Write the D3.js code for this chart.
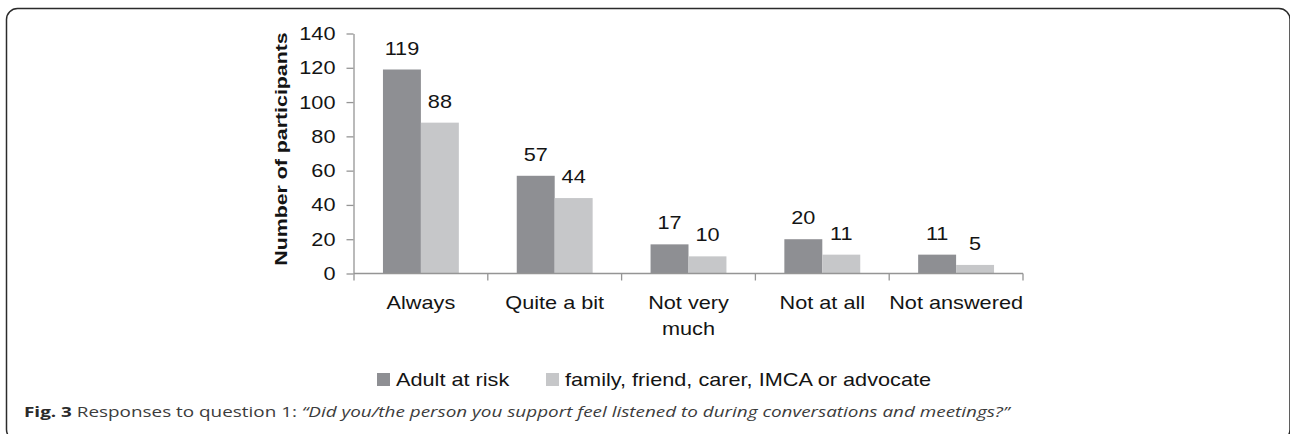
<!DOCTYPE html>
<html><head><meta charset="utf-8">
<script src="https://cdn.jsdelivr.net/npm/d3@7"></script>
<style>html,body{margin:0;padding:0;background:#fff;} svg{display:block;}</style>
</head><body>
<svg id="chart" width="1290" height="434"></svg>
<script>
// Survey responses, two respondent groups
const categories = ["Always", "Quite a bit", "Not very\nmuch", "Not at all", "Not answered"];
const seriesNames = ["Adult at risk", "family, friend, carer, IMCA or advocate"];
const adultAtRisk = [119, 57, 17, 20, 11];
const familyFriendCarer = [88, 44, 10, 11, 5];
const yTickValues = [0, 20, 40, 60, 80, 100, 120, 140];
const seriesColors = ["#8e8f93", "#c6c7c9"];
const captionBold = "Fig. 3";
const captionPlain = " Responses to question 1: ";
const captionQuote = "\u201CDid you/the person you support feel listened to during conversations and meetings?\u201D";

const seriesValues = [adultAtRisk, familyFriendCarer];

const svg = d3.select("#chart");
const FONT = "'Liberation Sans', Arial, Helvetica, sans-serif";
const FS = 17.5;   // chart text size
const SX = 1.24;   // wide-set glyphs of the chart font

// text drawn with a horizontal stretch around its anchor
function wideText(parent, x, y, str, anchor) {
  return parent.append("text")
    .attr("transform", `translate(${x},${y}) scale(${SX},1)`)
    .attr("text-anchor", anchor || "start")
    .attr("font-family", FONT)
    .attr("font-size", FS)
    .attr("fill", "#141414")
    .text(str);
}

// panel frame
svg.append("rect")
  .attr("x", 6.5).attr("y", 8.5)
  .attr("width", 1283.5).attr("height", 432)
  .attr("rx", 11).attr("ry", 11)
  .attr("fill", "none").attr("stroke", "#2b2b2b").attr("stroke-width", 1.5);

const x0 = d3.scaleBand().domain(categories).range([354, 1023]).padding(0);
const x1 = d3.scaleBand().domain(seriesNames).range([0, x0.bandwidth()])
  .paddingInner(0).paddingOuter(0.763);
const y = d3.scaleLinear().domain([0, 140]).range([273.5, 33.5]);

const axisColor = "#959595";

// y axis
const yAxis = svg.append("g")
  .attr("transform", "translate(353.5,0)")
  .call(d3.axisLeft(y).tickValues(yTickValues).tickSize(7).tickSizeOuter(0).tickFormat(d3.format("d")));
yAxis.select(".domain").attr("stroke", axisColor).attr("stroke-width", 1.3);
yAxis.selectAll(".tick line").attr("stroke", axisColor).attr("stroke-width", 1.3);
yAxis.selectAll(".tick text").each(function() {
  d3.select(this)
    .attr("x", null).attr("dy", null)
    .attr("transform", `translate(-18,6) scale(${SX},1)`)
    .attr("font-family", FONT).attr("font-size", FS).attr("fill", "#141414");
});

// y axis title
svg.append("text")
  .attr("transform", `translate(287,149) rotate(-90) scale(${SX},1)`)
  .attr("text-anchor", "middle")
  .attr("font-family", FONT).attr("font-weight", "bold")
  .attr("font-size", 17.2).attr("fill", "#141414")
  .text("Number of participants");

// bars with value labels
const groups = svg.append("g").selectAll("g")
  .data(categories)
  .join("g")
  .attr("transform", d => `translate(${x0(d)},0)`);

groups.each(function(cat, i) {
  const g = d3.select(this);
  seriesNames.forEach((name, s) => {
    const v = seriesValues[s][i];
    g.append("rect")
      .attr("x", x1(name)).attr("width", x1.bandwidth())
      .attr("y", y(v)).attr("height", y(0) - y(v))
      .attr("fill", seriesColors[s]);
    wideText(g, x1(name) + x1.bandwidth() / 2, y(v) - 15, String(v), "middle");
  });
});

// x axis line and category separators
const xAxis = svg.append("g");
const [xa, xb] = x0.range();
xAxis.append("line")
  .attr("x1", xa).attr("x2", xb).attr("y1", y(0)).attr("y2", y(0))
  .attr("stroke", axisColor).attr("stroke-width", 1.3);
xAxis.selectAll("line.sep")
  .data(d3.range(categories.length + 1))
  .join("line").attr("class", "sep")
  .attr("x1", i => xa + i * x0.step()).attr("x2", i => xa + i * x0.step())
  .attr("y1", y(0)).attr("y2", y(0) + 7)
  .attr("stroke", axisColor).attr("stroke-width", 1.3);

// category labels
categories.forEach(cat => {
  cat.split("\n").forEach((line, k) => {
    wideText(svg, x0(cat) + x0.bandwidth() / 2, 309 + k * 26, line, "middle");
  });
});

// legend
const legend = svg.append("g");
const legendX = [377, 546];
seriesNames.forEach((name, s) => {
  legend.append("rect")
    .attr("x", legendX[s]).attr("y", 373)
    .attr("width", 13).attr("height", 13)
    .attr("fill", seriesColors[s]);
  wideText(legend, legendX[s] + 19, 386, name, "start");
});

// caption
const cap = svg.append("text")
  .attr("transform", "translate(24,417) scale(1.26,1)")
  .attr("font-family", "'Open Sans', 'Noto Sans', sans-serif")
  .attr("font-size", 15)
  .attr("fill", "#3c3c3c");
cap.append("tspan").attr("font-weight", "bold").attr("fill", "#2a2a2a").text(captionBold);
cap.append("tspan").text(captionPlain);
cap.append("tspan").attr("font-style", "italic").text(captionQuote);
</script>
</body></html>
